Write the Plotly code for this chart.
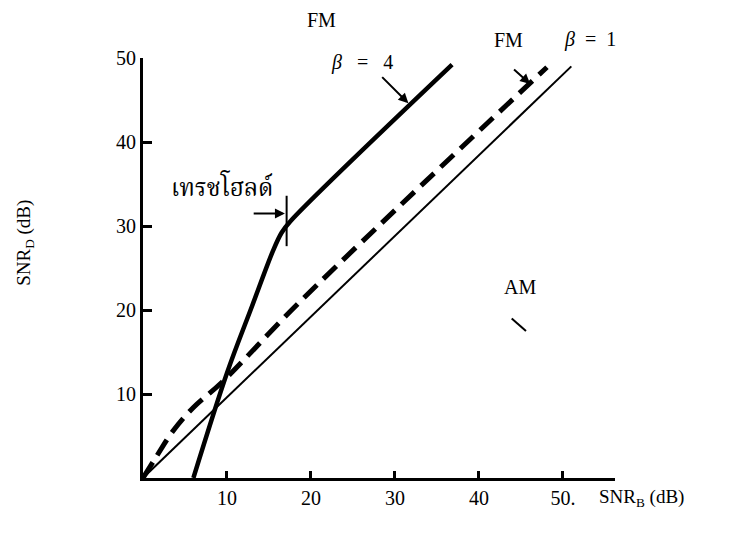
import plotly.graph_objects as go

# ---- data (dB) ----
am_x = [0, 51]
am_y = [0, 49]

fm1_x = [0, 1.5, 3.5, 6, 9.4, 18.7, 48.1]
fm1_y = [0, 2.4, 5.5, 8.4, 11.4, 21, 48.9]

fm4_x = [6, 10, 13, 15.5, 16.5, 17.5, 36.8]
fm4_y = [0, 12.5, 20.5, 27.1, 29.2, 30.5, 49.2]

x_ticks = [10, 20, 30, 40, 50]
x_ticktext = ["10", "20", "30", "40", "50."]
y_ticks = [10, 20, 30, 40, 50]
y_ticktext = ["10", "20", "30", "40", "50"]

SERIF = "Liberation Serif, Times New Roman, serif"
THAI = "Noto Serif Thai, Noto Sans Thai, Loma, Garuda, DejaVu Sans, sans-serif"

fig = go.Figure()
fig.add_trace(go.Scatter(x=am_x, y=am_y, mode="lines",
                         line=dict(color="black", width=2), showlegend=False))
fig.add_trace(go.Scatter(x=fm1_x, y=fm1_y, mode="lines",
                         line=dict(color="black", width=5, dash="18px,9px"),
                         line_shape="spline", showlegend=False))
fig.add_trace(go.Scatter(x=fm4_x, y=fm4_y, mode="lines",
                         line=dict(color="black", width=4.5), line_shape="spline",
                         showlegend=False))

ann = []
def txt(x, y, t, size=19, font=SERIF, xanchor="center", **kw):
    ann.append(dict(x=x, y=y, xref="paper", yref="paper", text=t, showarrow=False,
                    xanchor=xanchor, yanchor="middle",
                    font=dict(family=font, size=size, color="black"), **kw))

txt(0.379, 1.090, "FM", size=20)
txt(0.464, 0.990, "<i>β</i>&nbsp;&nbsp; =&nbsp;&nbsp; 4", size=20)
txt(0.775, 1.043, "FM", size=20)
txt(0.947, 1.043, "<i>β</i>&nbsp; =&nbsp; 1", size=20)
txt(0.799, 0.455, "AM", size=20)
txt(0.167, 0.688, "เทรชโฮลด์", size=24, font=THAI)
txt(0.962, -0.048, "SNR<sub>B</sub> (dB)", xanchor="left")
txt(-0.25, 0.56, "SNR<sub>D</sub> (dB)", textangle=-90)

def arrow(x0, y0, x1, y1):
    ann.append(dict(x=x1, y=y1, ax=x0, ay=y0, xref="x", yref="y",
                    axref="x", ayref="y", showarrow=True, arrowhead=2,
                    arrowsize=1, arrowwidth=2, arrowcolor="black", text=""))

arrow(13.0, 31.5, 16.9, 31.5)
arrow(28.3, 47.9, 31.6, 44.6)
arrow(44.0, 48.8, 46.1, 46.9)

fig.update_layout(annotations=ann)

fig.add_shape(type="line", x0=17.1, y0=27.6, x1=17.1, y1=33.6, xref="x", yref="y",
              line=dict(color="black", width=2))
fig.add_shape(type="line", x0=43.9, y0=19.0, x1=45.6, y1=17.5, xref="x", yref="y",
              line=dict(color="black", width=2))

fig.update_xaxes(range=[0, 56.2], showgrid=False, zeroline=False, showline=True,
                 linecolor="black", linewidth=3, ticks="inside", ticklen=7,
                 tickwidth=3, tickcolor="black", tickvals=x_ticks, ticktext=x_ticktext,
                 tickfont=dict(family=SERIF, size=20, color="black"))
fig.update_yaxes(range=[0, 50], showgrid=False, zeroline=False, showline=True,
                 linecolor="black", linewidth=3, ticks="inside", ticklen=9,
                 tickwidth=3, tickcolor="black", tickvals=y_ticks, ticktext=y_ticktext,
                 tickfont=dict(family=SERIF, size=20, color="black"))

fig.update_layout(width=734, height=528, margin=dict(l=135, r=127, t=50, b=58),
                  plot_bgcolor="white", paper_bgcolor="white")

fig.write_html("out.html")
